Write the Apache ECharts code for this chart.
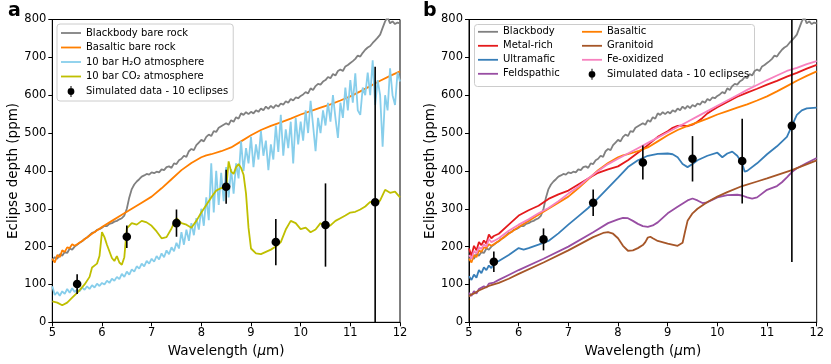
<!DOCTYPE html>
<html>
<head>
<meta charset="utf-8">
<script src="https://cdn.jsdelivr.net/npm/echarts@6/dist/echarts.min.js"></script>
<style>
  html, body { margin: 0; padding: 0; background: #fff; }
  #chart { width: 831px; height: 364px; }
</style>
</head>
<body>
<div id="chart"></div>
<script>
// shared wavelength grid for the noisy model spectra (5.00 .. 12.00 um, 0.05 step)
const wlFine = [];
for (let i = 0; i <= 140; i++) wlFine.push(+(5 + i * 0.05).toFixed(2));

// blackbody bare rock (both panels)
const blackbodyPpm = [
  165, 172, 168, 180, 176, 186, 183, 195, 192, 200,
  205, 210, 214, 220, 224, 230, 236, 238, 244, 246,
  250, 255, 254, 260, 262, 266, 268, 272, 275, 282,
  300, 330, 352, 364, 372, 378, 385, 388, 392, 390,
  396, 394, 398, 396, 404, 402, 410, 412, 408, 420,
  418, 428, 432, 440, 437, 452, 458, 455, 468, 475,
  482, 478, 490, 496, 492, 505, 503, 514, 518, 522,
  526, 522, 534, 530, 542, 538, 552, 548, 555, 550,
  556, 552, 560, 556, 565, 560, 570, 564, 572, 566,
  574, 570, 578, 575, 584, 580, 590, 586, 594, 592,
  598, 602, 608, 605, 618, 614, 624, 630, 628, 636,
  640, 648, 645, 656, 652, 664, 668, 664, 676, 680,
  685, 690, 696, 705, 702, 712, 720, 726, 730, 738,
  745, 752, 760, 778, 795, 806, 790, 795, 788, 792,
  790
];

// 10 bar H2O atmosphere
const h2oPpm = [
  95, 72, 80, 70, 82, 75, 88, 78, 90, 80,
  86, 82, 92, 86, 95, 88, 98, 92, 102, 96,
  104, 100, 110, 104, 115, 110, 120, 114, 128, 120,
  134, 126, 140, 134, 148, 142, 155, 148, 162, 155,
  168, 160, 175, 166, 182, 172, 190, 180, 198, 188,
  210, 195, 238, 205, 245, 215, 262, 230, 275, 245,
  300, 255, 330, 270, 420, 290, 400, 310, 395, 320,
  410, 330, 405, 340, 420, 380, 478, 400, 460, 420,
  490, 410, 470, 430, 505, 440, 480, 402, 470, 430,
  520, 450, 548, 440, 510, 460, 530, 420, 540, 470,
  530, 480, 560, 500, 585, 520, 452, 540, 500, 560,
  520, 580, 530, 600, 540, 487, 580, 540, 620, 560,
  640, 580, 658, 560, 548, 620, 600, 660, 600, 692,
  574, 640, 600, 464, 600, 560, 671, 600, 574, 660,
  636
];

// 10 bar CO2 atmosphere
const co2Wl = [5.0, 5.1, 5.2, 5.3, 5.4, 5.5, 5.55, 5.65, 5.75, 5.8, 5.9, 5.95, 6.0, 6.05, 6.1,
  6.2, 6.25, 6.3, 6.35, 6.4, 6.45, 6.5,
  6.6, 6.7, 6.8, 6.9, 7.0, 7.1, 7.2, 7.3, 7.4, 7.5, 7.6, 7.7, 7.8, 7.9, 8.0, 8.1, 8.2, 8.3, 8.4, 8.5,
  8.55, 8.6, 8.65, 8.7, 8.75, 8.8, 8.85, 8.9, 8.95,
  9.0, 9.1, 9.2, 9.3, 9.4, 9.5, 9.6, 9.7, 9.8, 9.9, 10.0, 10.1, 10.2, 10.3, 10.4, 10.5,
  10.6, 10.7, 10.8, 10.9, 11.0, 11.1, 11.2, 11.3, 11.4, 11.5, 11.6, 11.7, 11.8, 11.9, 12.0];
const co2Ppm = [55, 52, 45, 52, 65, 78, 85, 100, 120, 145, 155, 175, 238, 225, 205,
  170, 162, 175, 158, 152, 172, 248,
  262, 258, 268, 264, 255, 240, 222, 225, 248, 275, 262, 258, 250, 268, 290, 310, 330, 348, 355, 352,
  425, 398, 392, 410, 418, 408, 390, 340, 250,
  195, 182, 180, 186, 192, 200, 212, 245, 268, 262, 246, 250, 238, 245, 262, 252,
  256, 268, 275, 282, 290, 292, 298, 306, 318, 312, 322, 350, 342, 345, 330];

// basaltic bare rock (both panels)
const basaltWl = [5.0, 5.05, 5.1, 5.15, 5.2, 5.25, 5.3, 5.35, 5.4, 5.45, 5.5,
  5.6, 5.8, 6.0, 6.2, 6.4, 6.6, 6.8, 7.0, 7.2, 7.4, 7.6, 7.8, 8.0,
  8.1,
  8.2, 8.4, 8.6, 8.8, 9.0, 9.2, 9.4, 9.6, 9.8, 10.0, 10.2, 10.4, 10.6, 10.8, 11.0, 11.2, 11.4, 11.6, 11.8, 12.0];
const basaltPpm = [168, 158, 178, 172, 190, 186, 198, 196, 206, 202, 206,
  215, 234, 252, 268, 284, 300, 316, 332, 354, 378, 402, 421, 436,
  441,
  444, 452, 462, 478, 494, 508, 519, 528, 538, 549, 558, 567, 576, 586, 597, 610, 624, 638, 651, 663];

// panel b surfaces
const metalWl = [5.0, 5.05, 5.1, 5.15, 5.2, 5.25, 5.3, 5.35, 5.4, 5.45, 5.5,
  5.6, 5.8,
  6.0, 6.2, 6.4, 6.6, 6.8, 7.0, 7.2, 7.4, 7.6, 7.8, 8.0, 8.2, 8.4, 8.6, 8.8, 9.0,
  9.1, 9.2, 9.3, 9.4, 9.5, 9.6, 9.7, 9.8, 9.9, 10.0,
  10.2, 10.4, 10.6, 10.8, 11.0, 11.2, 11.4, 11.6, 11.8, 12.0];
const metalPpm = [195, 176, 202, 190, 212, 204, 216, 208, 232, 222, 228,
  234, 258,
  282, 296, 308, 326, 338, 348, 364, 380, 395, 404, 412, 428, 448, 468, 490, 505,
  514, 519, 520, 518, 522, 530, 540, 552, 560, 568,
  582, 596, 607, 617, 628, 638, 649, 659, 670, 680];

const ultraWl = [5.0, 5.05, 5.1, 5.15, 5.2, 5.25, 5.3, 5.35, 5.4, 5.45, 5.5,
  5.6, 5.8, 6.0, 6.1, 6.2, 6.4, 6.6, 6.8, 7.0, 7.2, 7.4, 7.6, 7.8, 8.0, 8.2, 8.4, 8.6, 8.8, 9.0,
  9.1, 9.2, 9.3, 9.4, 9.5, 9.6,
  9.8, 10.0, 10.1, 10.2, 10.3, 10.4, 10.5, 10.55, 10.6, 10.8,
  11.0, 11.2, 11.4, 11.5, 11.6, 11.7, 11.8, 12.0];
const ultraPpm = [122, 112, 126, 118, 138, 130, 145, 138, 150, 143, 155,
  162, 178, 196, 192, 196, 205, 215, 235, 258, 280, 302, 328, 355, 382, 410, 428, 440, 445, 446,
  444, 436, 418, 410, 418, 428,
  440, 448, 436, 446, 451, 440, 420, 398, 400, 420,
  444, 465, 490, 519, 548, 560, 565, 567];

const feldWl = [5.0, 5.05, 5.1, 5.15, 5.2, 5.3, 5.35, 5.4, 5.5,
  5.6, 5.8, 6.0, 6.5, 7.0, 7.5, 7.8,
  8.0, 8.1, 8.2, 8.3, 8.4, 8.5, 8.6, 8.7, 8.8,
  9.0, 9.2, 9.4, 9.5, 9.6, 9.7, 9.8,
  10.0, 10.2, 10.4, 10.5, 10.6, 10.7, 10.8,
  11.0, 11.2, 11.3, 11.4, 11.5, 11.6, 11.8, 12.0];
const feldPpm = [78, 70, 82, 76, 88, 95, 92, 102, 105,
  112, 125, 138, 168, 200, 238, 262,
  272, 276, 275, 268, 260, 254, 252, 256, 264,
  288, 305, 322, 327, 322, 315, 317,
  330, 336, 337, 335, 330, 327, 330,
  350, 360, 370, 383, 397, 407, 421, 434];

const graniteWl = [5.0, 5.05, 5.1, 5.2, 5.3, 5.4, 5.5, 5.6, 5.8, 6.0,
  6.5, 7.0, 7.5, 7.7, 7.8, 7.9,
  8.0, 8.1, 8.2, 8.3, 8.4, 8.5, 8.55, 8.6, 8.65, 8.7, 8.8,
  9.0, 9.2, 9.3, 9.35, 9.4, 9.5, 9.6, 9.8,
  10.0, 10.2, 10.5, 10.8, 11.0, 11.5, 12.0];
const granitePpm = [68, 74, 76, 84, 90, 96, 100, 104, 115, 128,
  158, 190, 225, 236, 238, 234,
  222, 202, 189, 190, 196, 204, 212, 224, 226, 222, 215,
  208, 202, 210, 240, 268, 288, 300, 318,
  332, 344, 360, 372, 380, 402, 428];

const feoxWl = [5.0, 5.05, 5.1, 5.15, 5.2, 5.25, 5.3, 5.35, 5.4, 5.45, 5.5,
  5.6, 5.8,
  6.0, 6.2, 6.4, 6.6, 6.8, 7.0, 7.2, 7.4, 7.6, 7.8, 8.0, 8.2, 8.4, 8.6, 8.8, 9.0,
  9.2, 9.4, 9.6, 9.8, 10.0, 10.2, 10.4, 10.6, 10.8, 11.0, 11.2, 11.4, 11.6, 11.8, 12.0];
const feoxPpm = [178, 168, 188, 182, 198, 194, 206, 200, 220, 212, 215,
  222, 242,
  258, 272, 288, 302, 320, 340, 358, 380, 400, 418, 432, 446, 460, 474, 488, 502,
  516, 530, 544, 558, 572, 586, 600, 614, 627, 640, 652, 664, 672, 682, 690];

// simulated data - 10 eclipses
const obsWl = [5.5, 6.5, 7.5, 8.5, 9.5, 10.5, 11.5];
const obsPpmA = [101, 226, 262, 358, 212, 257, 317];
const obsErrA = [26, 30, 36, 45, 61, 110, 358];
const obsPpmB = [160, 219, 316, 422, 432, 426, 519];
const obsErrB = [27, 29, 35, 45, 60, 112, 360];

const FONT = 'DejaVu Sans';
const Y_MIN = 0, Y_MAX = 800;
const ERR_ICON = 'path://M3.4,0L4.6,0L4.6,3L3.4,3Z M3.4,10L4.6,10L4.6,13L3.4,13Z M0,6.5A4,4,0,1,1,8,6.5A4,4,0,1,1,0,6.5Z';
const LINE_ICON = 'path://M0,0L20,0L20,1.8L0,1.8Z';

function pairs(xs, ys) {
  return xs.map((x, i) => [x, ys[i]]);
}

function lineSeries(name, xs, ys, color, idx) {
  return {
    name: name,
    type: 'line',
    xAxisIndex: idx,
    yAxisIndex: idx,
    data: pairs(xs, ys),
    showSymbol: false,
    symbol: 'none',
    clip: true,
    lineStyle: { color: color, width: 1.8 },
    itemStyle: { color: color },
    silent: true
  };
}

// vertical error bar + filled dot
function renderErr(params, api) {
  const x = api.value(0), y = api.value(1), e = api.value(2);
  const top = api.coord([x, Math.min(Y_MAX, y + e)]);
  const bot = api.coord([x, Math.max(Y_MIN, y - e)]);
  const c = api.coord([x, y]);
  return {
    type: 'group',
    children: [
      { type: 'line', shape: { x1: top[0], y1: top[1], x2: bot[0], y2: bot[1] },
        style: { stroke: '#000', lineWidth: 1.6 } },
      { type: 'circle', shape: { cx: c[0], cy: c[1], r: 4.3 }, style: { fill: '#000' } }
    ]
  };
}

function errSeries(ppm, err, idx) {
  return {
    name: 'Simulated data - 10 eclipses',
    type: 'custom',
    xAxisIndex: idx,
    yAxisIndex: idx,
    renderItem: renderErr,
    encode: { x: 0, y: 1 },
    itemStyle: { color: '#000' },
    data: obsWl.map((w, i) => [w, ppm[i], err[i]]),
    z: 5,
    silent: true
  };
}

function xAxisOf(idx) {
  return {
    type: 'value', gridIndex: idx, min: 5, max: 12, interval: 1,
    name: 'Wavelength ({i|μ}m)', nameLocation: 'middle', nameGap: 18,
    nameTextStyle: {
      fontFamily: FONT, fontSize: 13.5, color: '#000',
      rich: { i: { fontFamily: FONT, fontSize: 13.5, fontStyle: 'italic', color: '#000' } }
    },
    axisLine: { show: true, onZero: false, lineStyle: { color: '#000', width: 1 } },
    axisTick: { show: true, length: 4, lineStyle: { color: '#000' } },
    axisLabel: { fontFamily: FONT, fontSize: 11.5, color: '#000', margin: 5 },
    splitLine: { show: false }
  };
}

function yAxisOf(idx) {
  return {
    type: 'value', gridIndex: idx, min: 0, max: 800, interval: 100,
    name: 'Eclipse depth (ppm)', nameLocation: 'middle', nameGap: 32, nameRotate: 90,
    nameTextStyle: { fontFamily: FONT, fontSize: 13.5, color: '#000' },
    axisLine: { show: true, onZero: false, lineStyle: { color: '#000', width: 1 } },
    axisTick: { show: true, length: 4, lineStyle: { color: '#000' } },
    axisLabel: { fontFamily: FONT, fontSize: 11.5, color: '#000', margin: 6 },
    splitLine: { show: false }
  };
}

function lineItems(names) {
  return names.map(n => ({ name: n, icon: LINE_ICON }));
}

const legendText = { fontFamily: FONT, fontSize: 10, color: '#000' };

const chart = echarts.init(document.getElementById('chart'), null, { renderer: 'canvas' });

chart.setOption({
  animation: false,
  backgroundColor: '#fff',
  grid: [
    { left: 52.3, right: 431, top: 19.5, bottom: 41.7, show: true, borderColor: '#000', borderWidth: 1 },
    { left: 469, right: 14.3, top: 19.5, bottom: 41.7, show: true, borderColor: '#000', borderWidth: 1 }
  ],
  xAxis: [xAxisOf(0), xAxisOf(1)],
  yAxis: [yAxisOf(0), yAxisOf(1)],
  legend: [
    {
      orient: 'vertical', left: 57, top: 24, selectedMode: false,
      itemWidth: 20, itemHeight: 11, itemGap: 4.5,
      padding: [4, 5, 4, 4],
      backgroundColor: 'rgba(255,255,255,0.8)', borderColor: '#cccccc', borderWidth: 1, borderRadius: 3,
      textStyle: legendText,
      data: lineItems(['Blackbody bare rock', 'Basaltic bare rock', '10 bar H₂O atmosphere', '10 bar CO₂ atmosphere'])
        .concat([{ name: 'Simulated data - 10 eclipses', icon: ERR_ICON }])
    },
    {
      orient: 'vertical', left: 478, top: 26.8, selectedMode: false, z: 5,
      itemWidth: 20, itemHeight: 11, itemGap: 4, padding: 0,
      textStyle: legendText,
      data: lineItems(['Blackbody', 'Metal-rich', 'Ultramafic', 'Feldspathic'])
    },
    {
      orient: 'vertical', left: 582, top: 26.8, selectedMode: false, z: 5,
      itemWidth: 20, itemHeight: 11, itemGap: 4, padding: 0,
      textStyle: legendText,
      data: lineItems(['Basaltic', 'Granitoid', 'Fe-oxidized'])
        .concat([{ name: 'Simulated data - 10 eclipses', icon: ERR_ICON }])
    }
  ],
  graphic: [
    { type: 'text', left: 8, top: 2, style: { text: 'a', font: 'bold 19px "DejaVu Sans"', fill: '#000' } },
    { type: 'text', left: 423, top: 2, style: { text: 'b', font: 'bold 19px "DejaVu Sans"', fill: '#000' } },
    { type: 'rect', left: 474, top: 24, z: 3,
      shape: { width: 280, height: 62, r: 3 },
      style: { fill: 'rgba(255,255,255,0.8)', stroke: '#cccccc', lineWidth: 1 } }
  ],
  series: [
    // panel a
    lineSeries('Blackbody bare rock', wlFine, blackbodyPpm, '#808080', 0),
    lineSeries('Basaltic bare rock', basaltWl, basaltPpm, '#ff7f00', 0),
    lineSeries('10 bar H₂O atmosphere', wlFine, h2oPpm, '#87ceeb', 0),
    lineSeries('10 bar CO₂ atmosphere', co2Wl, co2Ppm, '#bfbf00', 0),
    errSeries(obsPpmA, obsErrA, 0),
    // panel b
    lineSeries('Blackbody', wlFine, blackbodyPpm, '#808080', 1),
    lineSeries('Metal-rich', metalWl, metalPpm, '#e41a1c', 1),
    lineSeries('Ultramafic', ultraWl, ultraPpm, '#377eb8', 1),
    lineSeries('Feldspathic', feldWl, feldPpm, '#984ea3', 1),
    lineSeries('Basaltic', basaltWl, basaltPpm, '#ff7f00', 1),
    lineSeries('Granitoid', graniteWl, granitePpm, '#a65628', 1),
    lineSeries('Fe-oxidized', feoxWl, feoxPpm, '#f781bf', 1),
    errSeries(obsPpmB, obsErrB, 1)
  ]
});
</script>
</body>
</html>
